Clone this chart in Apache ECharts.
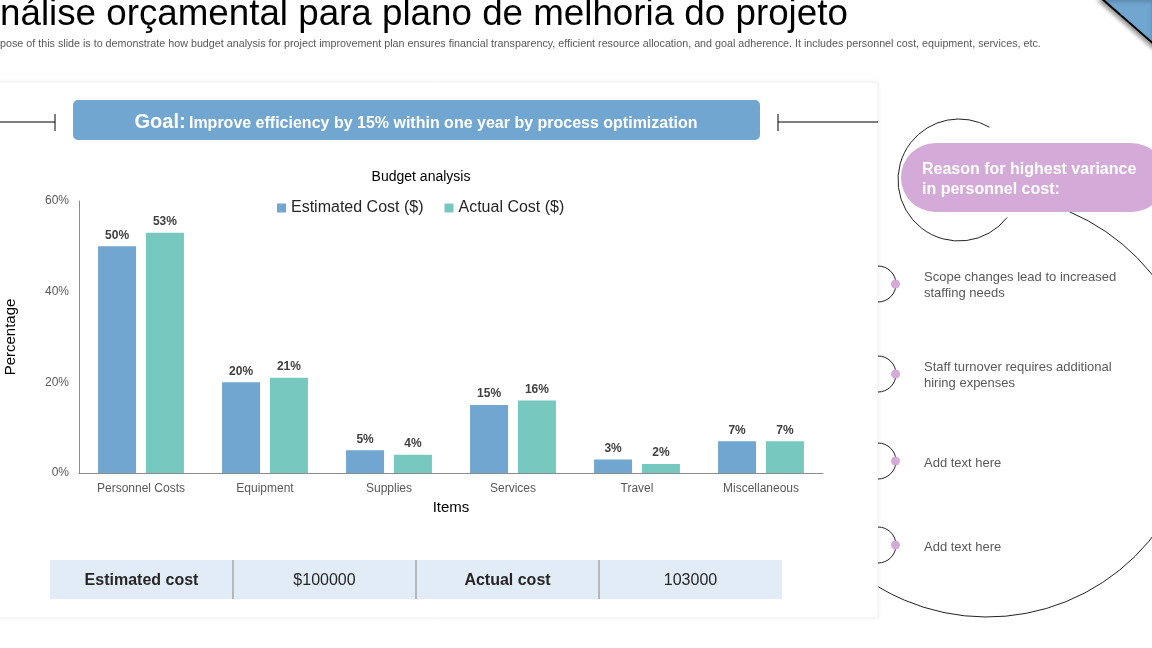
<!DOCTYPE html>
<html>
<head>
<meta charset="utf-8">
<script src="https://cdn.jsdelivr.net/npm/echarts@6/dist/echarts.min.js"></script>
<style>
html,body{margin:0;padding:0;background:#fff;}
#c{width:1152px;height:648px;}
</style>
</head>
<body>
<div id="c"></div>
<script>
const categories = ['Personnel Costs','Equipment','Supplies','Services','Travel','Miscellaneous'];
const estimatedCost = [50,20,5,15,3,7];
const actualCost = [53,21,4,16,2,7];
const seriesNames = ['Estimated Cost ($)','Actual Cost ($)'];
const yTicks = {min:0, max:60, interval:20};
const tableCells = [
  {text:'Estimated cost', bold:true},
  {text:'$100000', bold:false},
  {text:'Actual cost', bold:true},
  {text:'103000', bold:false}
];
const reasons = [
  ['Scope changes lead to increased','staffing needs'],
  ['Staff turnover requires additional','hiring expenses'],
  ['Add text here'],
  ['Add text here']
];
const titleHidden = 'A';
const titleText = 'Análise orçamental para plano de melhoria do projeto';
const subHidden = 'The pur';
const subText = 'The purpose of this slide is to demonstrate how budget analysis for project improvement plan ensures financial transparency, efficient resource allocation, and goal adherence. It includes personnel cost, equipment, services, etc.';

const FONT = '"Liberation Sans", Arial, sans-serif';
const BLUE = '#71a6d1';
const TEAL = '#77c8bf';
const PINK = '#d4aad8';

const mctx = document.createElement('canvas').getContext('2d');
function tw(s, size, weight){ mctx.font = (weight||'normal') + ' ' + size + 'px ' + FONT; return mctx.measureText(s).width; }

const titleVisible = titleText.slice(titleHidden.length);
const titleSize = Math.min(38, 32 * 848 / tw(titleVisible, 32));
const titleOffset = -tw(titleHidden, titleSize);
const subVisible = subText.slice(subHidden.length);
const subSize = 10 * 1042 / tw(subVisible, 10);
const subOffset = -tw(subHidden, subSize);

const chart = echarts.init(document.getElementById('c'), null, {renderer:'canvas'});

const graphics = [];
graphics.push({type:'rect', z:-10, shape:{x:-10,y:82,width:888,height:536}, style:{fill:'#fff', stroke:'#f2f2f2', lineWidth:1, shadowBlur:5, shadowColor:'rgba(0,0,0,0.05)'}});
graphics.push({type:'text', z:10, x:titleOffset, y:27 + titleSize*0.18, style:{text:titleText, font:'normal '+titleSize+'px '+FONT, fill:'#000', verticalAlign:'bottom'}});
graphics.push({type:'text', z:10, x:subOffset, y:44, style:{text:subText, font:'normal '+subSize+'px '+FONT, fill:'#595959', verticalAlign:'middle'}});
graphics.push({type:'polygon', z:10, shape:{points:[[1101,-2],[1156,-2],[1156,46]]}, style:{fill:BLUE, stroke:'#000', lineWidth:2, shadowBlur:4, shadowColor:'rgba(0,0,0,0.4)', shadowOffsetX:-2, shadowOffsetY:2}});
graphics.push({type:'line', z:10, shape:{x1:-2,y1:122,x2:55,y2:122}, style:{stroke:'#000', lineWidth:1}});
graphics.push({type:'line', z:10, shape:{x1:55,y1:114,x2:55,y2:131}, style:{stroke:'#000', lineWidth:1}});
graphics.push({type:'line', z:10, shape:{x1:778,y1:122,x2:878,y2:122}, style:{stroke:'#000', lineWidth:1}});
graphics.push({type:'line', z:10, shape:{x1:778,y1:114,x2:778,y2:131}, style:{stroke:'#000', lineWidth:1}});
graphics.push({type:'rect', z:10, shape:{x:73,y:100,width:687,height:40,r:5}, style:{fill:BLUE}});
graphics.push({type:'text', z:11, x:416, y:122, style:{
  text:'{a|Goal:} {b|Improve efficiency by 15% within one year by process optimization}',
  align:'center', verticalAlign:'middle',
  rich:{a:{font:'bold 20px '+FONT, fill:'#fff'}, b:{font:'bold 16px '+FONT, fill:'#fff', padding:[3,0,0,0]}}
}});
graphics.push({type:'rect', z:10, shape:{x:50,y:560,width:732,height:39}, style:{fill:'#e1ecf6'}});
const cellW = 183;
tableCells.forEach((c,i)=>{
  graphics.push({type:'text', z:11, x:50+cellW*i+cellW/2, y:581, style:{text:c.text, font:(c.bold?'bold ':'normal ')+'16px '+FONT, fill:'#262626', align:'center', verticalAlign:'middle'}});
  if(i>0) graphics.push({type:'line', z:11, shape:{x1:50+cellW*i,y1:560,x2:50+cellW*i,y2:599}, style:{stroke:'#a6a6a6', lineWidth:1.5}});
});
const D = Math.PI/180;
graphics.push({type:'arc', z:10, shape:{cx:959,cy:180,r:61,startAngle:38*D,endAngle:300*D,clockwise:true}, style:{stroke:'#222', lineWidth:1, fill:null}});
graphics.push({type:'arc', z:10, shape:{cx:987,cy:406,r:211,startAngle:-67*D,endAngle:121*D,clockwise:true}, style:{stroke:'#222', lineWidth:1, fill:null}});
graphics.push({type:'rect', z:12, shape:{x:901,y:143,width:265,height:69,r:34.5}, style:{fill:PINK}});
graphics.push({type:'text', z:13, x:922, y:170, style:{text:'Reason for highest variance', font:'bold 16px '+FONT, fill:'#fff', verticalAlign:'middle'}});
graphics.push({type:'text', z:13, x:922, y:190, style:{text:'in personnel cost:', font:'bold 16px '+FONT, fill:'#fff', verticalAlign:'middle'}});
const bulletY = [284,374,461,545];
reasons.forEach((lines,i)=>{
  const cy = bulletY[i];
  graphics.push({type:'arc', z:10, shape:{cx:878,cy:cy,r:18,startAngle:-90*D,endAngle:90*D,clockwise:true}, style:{stroke:'#222', lineWidth:1, fill:null}});
  graphics.push({type:'circle', z:11, shape:{cx:895.5,cy:cy,r:4.5}, style:{fill:PINK}});
  const y0 = lines.length===2 ? cy-7 : cy+2;
  lines.forEach((t,j)=>{
    graphics.push({type:'text', z:11, x:924, y:y0+j*16, style:{text:t, font:'normal 13px '+FONT, fill:'#595959', verticalAlign:'middle'}});
  });
});

const option = {
  animation:false,
  backgroundColor:'#fff',
  textStyle:{fontFamily:FONT},
  title:{text:'Budget analysis', left:416, top:165, textAlign:'center', textStyle:{fontSize:14, fontWeight:'normal', color:'#000', fontFamily:FONT}},
  legend:{left:272, top:195, itemWidth:9, itemHeight:9, itemGap:21, icon:'rect', textStyle:{fontSize:16, color:'#262626', fontFamily:FONT}, data:seriesNames},
  grid:{left:79, right:329, top:201, bottom:175, containLabel:false, outerBoundsMode:'none'},
  xAxis:{type:'category', data:categories, name:'Items', nameLocation:'middle', nameGap:27,
    nameTextStyle:{fontSize:15, color:'#000', fontFamily:FONT},
    axisLine:{lineStyle:{color:'#8c8c8c', width:1}}, axisTick:{show:false},
    axisLabel:{fontSize:12, color:'#595959', margin:10, fontFamily:FONT}},
  yAxis:{type:'value', min:yTicks.min, max:yTicks.max, interval:yTicks.interval, name:'Percentage', nameLocation:'middle', nameGap:61,
    nameTextStyle:{fontSize:15, color:'#000', fontFamily:FONT},
    axisLine:{show:true, lineStyle:{color:'#8c8c8c', width:1}}, axisTick:{show:false}, splitLine:{show:false},
    axisLabel:{fontSize:12, color:'#595959', margin:10, formatter:'{value}%', fontFamily:FONT}},
  series:[
    {name:seriesNames[0], type:'bar', data:estimatedCost, barWidth:38, barGap:'26%', itemStyle:{color:BLUE},
     label:{show:true, position:'top', distance:5, formatter:'{c}%', fontSize:12, fontWeight:'bold', color:'#404040', fontFamily:FONT}},
    {name:seriesNames[1], type:'bar', data:actualCost, barWidth:38, barGap:'26%', itemStyle:{color:TEAL},
     label:{show:true, position:'top', distance:5, formatter:'{c}%', fontSize:12, fontWeight:'bold', color:'#404040', fontFamily:FONT}}
  ],
  graphic:{elements:graphics}
};
chart.setOption(option);
</script>
</body>
</html>
